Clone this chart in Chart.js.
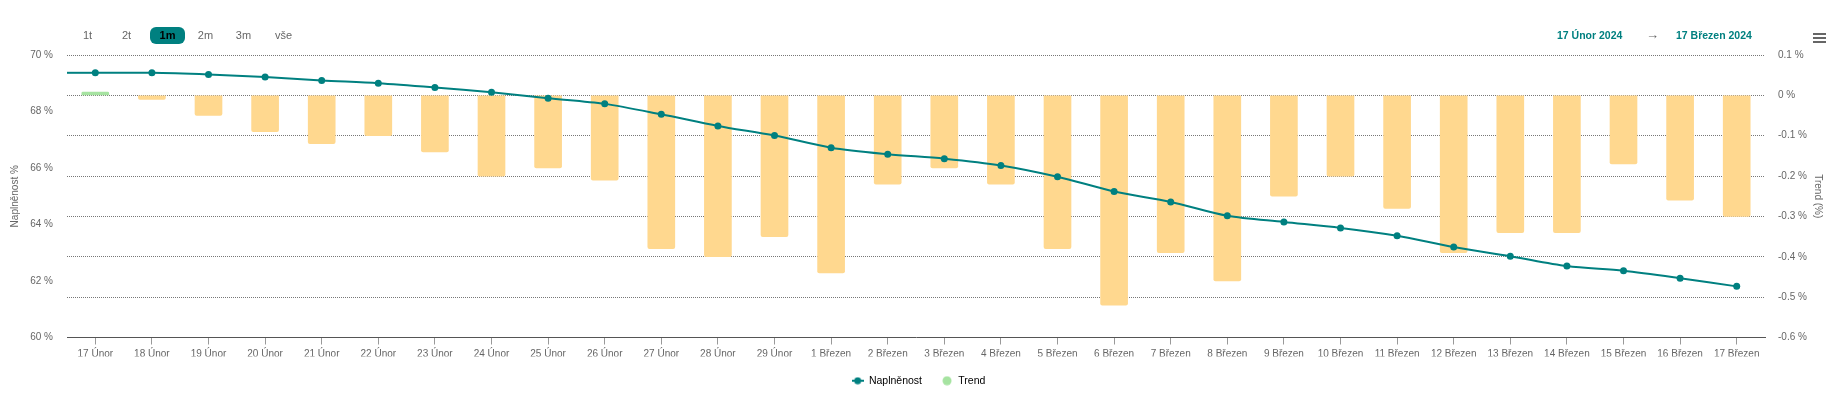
<!DOCTYPE html>
<html lang="cs">
<head>
<meta charset="utf-8">
<title>Naplněnost</title>
<script src="https://cdn.jsdelivr.net/npm/chart.js@4/dist/chart.umd.min.js"></script>
<style>
  body { margin: 0; background: #fff; font-family: "Liberation Sans", Arial, sans-serif; }
  #wrap { position: relative; width: 1837px; height: 412px; }
  #chart { position: absolute; left: 0; top: 0; }
  .btn { position: absolute; top: 27px; width: 35px; height: 17px; line-height: 17px;
         font-size: 11px; color: #666; text-align: center; }
  .btn.on { background: #008080; color: #000; font-weight: bold; border-radius: 6px; }
  .date { position: absolute; top: 28px; line-height: 14px; font-size: 10.5px; font-weight: bold; color: #008080; }
  .arrow { position: absolute; top: 27px; line-height: 16px; font-size: 13px; color: #666; }
  .menu { position: absolute; left: 1813px; width: 13px; height: 2px; background: #666; }
</style>
</head>
<body>
<div id="wrap">
  <canvas id="chart" width="1837" height="412"></canvas>
  <div class="btn" style="left:70px">1t</div>
  <div class="btn" style="left:109px">2t</div>
  <div class="btn on" style="left:150px">1m</div>
  <div class="btn" style="left:188px">2m</div>
  <div class="btn" style="left:226px">3m</div>
  <div class="btn" style="left:266px">vše</div>
  <div class="date" style="left:1557px">17 Únor 2024</div>
  <div class="arrow" style="left:1646px">→</div>
  <div class="date" style="left:1676px">17 Březen 2024</div>
  <div class="menu" style="top:33px"></div>
  <div class="menu" style="top:37px"></div>
  <div class="menu" style="top:41px"></div>
</div>
<script>
const days = [
  "17 Únor", "18 Únor", "19 Únor", "20 Únor", "21 Únor", "22 Únor", "23 Únor",
  "24 Únor", "25 Únor", "26 Únor", "27 Únor", "28 Únor", "29 Únor",
  "1 Březen", "2 Březen", "3 Březen", "4 Březen", "5 Březen", "6 Březen",
  "7 Březen", "8 Březen", "9 Březen", "10 Březen", "11 Březen", "12 Březen",
  "13 Březen", "14 Březen", "15 Březen", "16 Březen", "17 Březen"
];

// naplnenost in %, left axis
const fullness = [
  69.37, 69.37, 69.31, 69.22, 69.10, 69.00, 68.85, 68.68, 68.47, 68.27,
  67.90, 67.49, 67.15, 66.72, 66.49, 66.33, 66.09, 65.69, 65.17, 64.80,
  64.31, 64.09, 63.88, 63.60, 63.20, 62.88, 62.53, 62.36, 62.10, 61.81
];

// daily trend in %, right axis
const trend = [
  0.008, -0.01, -0.05, -0.09, -0.12, -0.10, -0.14, -0.20, -0.18, -0.21,
  -0.38, -0.40, -0.35, -0.44, -0.22, -0.18, -0.22, -0.38, -0.52, -0.39,
  -0.46, -0.25, -0.20, -0.28, -0.39, -0.34, -0.34, -0.17, -0.26, -0.30
];

const leftTicks = { min: 60, max: 70, step: 2 };
const rightTicks = { min: -0.6, max: 0.1, step: 0.1 };

const teal = "#008080";
const orange = "#ffd88f";
const green = "#a6e3a1";

function markerLine() {
  const c = document.createElement("canvas");
  c.width = 12; c.height = 8;
  const g = c.getContext("2d");
  g.strokeStyle = teal; g.lineWidth = 2;
  g.beginPath(); g.moveTo(0, 4); g.lineTo(12, 4); g.stroke();
  g.fillStyle = teal;
  g.beginPath(); g.arc(6, 4, 3.5, 0, Math.PI * 2); g.fill();
  return c;
}

function markerDot() {
  const c = document.createElement("canvas");
  c.width = 10; c.height = 10;
  const g = c.getContext("2d");
  g.fillStyle = green;
  g.beginPath(); g.arc(5, 5, 4.5, 0, Math.PI * 2); g.fill();
  return c;
}

// the line starts at the left edge of the plot in the original
const leadIn = {
  id: "leadIn",
  beforeDatasetsDraw(chart) {
    const meta = chart.getDatasetMeta(0);
    const p = meta.data[0];
    if (!p) return;
    const ctx = chart.ctx;
    ctx.save();
    ctx.strokeStyle = teal;
    ctx.lineWidth = 2;
    ctx.beginPath();
    ctx.moveTo(chart.chartArea.left, p.y);
    ctx.lineTo(p.x, p.y);
    ctx.stroke();
    ctx.restore();
  }
};

const tickFont = { family: "'Liberation Sans', Arial, sans-serif", size: 10 };

new Chart(document.getElementById("chart"), {
  data: {
    labels: days,
    datasets: [
      {
        type: "line",
        label: "Naplněnost",
        data: fullness,
        yAxisID: "y",
        borderColor: teal,
        backgroundColor: teal,
        borderWidth: 2,
        pointRadius: 3.5,
        pointBackgroundColor: teal,
        pointBorderWidth: 0,
        tension: 0.3,
        order: 0
      },
      {
        type: "bar",
        label: "Trend",
        data: trend,
        yAxisID: "y1",
        backgroundColor: ctx => (ctx.raw >= 0 ? green : orange),
        borderRadius: 2,
        barThickness: 27,
        order: 1
      }
    ]
  },
  options: {
    responsive: false,
    animation: false,
    layout: { padding: { top: 55, bottom: 16, left: 0, right: 0 } },
    plugins: {
      tooltip: { enabled: false },
      legend: {
        position: "bottom",
        labels: {
          usePointStyle: true,
          pointStyleWidth: 12,
          padding: 19,
          color: "#333",
          font: { family: "'Liberation Sans', Arial, sans-serif", size: 10.5 },
          generateLabels: () => [
            { text: "Naplněnost", pointStyle: markerLine(), fillStyle: teal, strokeStyle: teal, lineWidth: 0, datasetIndex: 0 },
            { text: "Trend", pointStyle: markerDot(), fillStyle: green, strokeStyle: green, lineWidth: 0, datasetIndex: 1 }
          ]
        }
      }
    },
    scales: {
      x: {
        afterFit: s => { s.height = 19; },
        grid: { offset: false, drawOnChartArea: false, tickLength: 7, tickColor: "#999" },
        border: { color: "#555", width: 1 },
        ticks: { color: "#666", font: tickFont, padding: 4, maxRotation: 0, autoSkip: false }
      },
      y: {
        position: "left",
        min: leftTicks.min,
        max: leftTicks.max,
        afterFit: s => { s.width = 67; },
        grid: { display: false, drawTicks: false },
        border: { display: false },
        ticks: { stepSize: leftTicks.step, color: "#666", font: tickFont, padding: 14,
                 callback: v => v + " %" },
        title: { display: true, text: "Naplněnost %", color: "#666", font: tickFont,
                 padding: { top: 9, bottom: 0 } }
      },
      y1: {
        position: "right",
        min: rightTicks.min,
        max: rightTicks.max,
        afterFit: s => { s.width = 72; },
        grid: { color: "#777", drawTicks: false },
        border: { display: false, dash: [1, 1] },
        ticks: { stepSize: rightTicks.step, color: "#666", font: tickFont, padding: 13,
                 callback: v => (Math.round(v * 10) / 10) + " %" },
        title: { display: true, text: "Trend (%)", color: "#666", font: tickFont,
                 padding: { top: 13, bottom: 0 } }
      }
    }
  },
  plugins: [leadIn]
});
</script>
</body>
</html>
